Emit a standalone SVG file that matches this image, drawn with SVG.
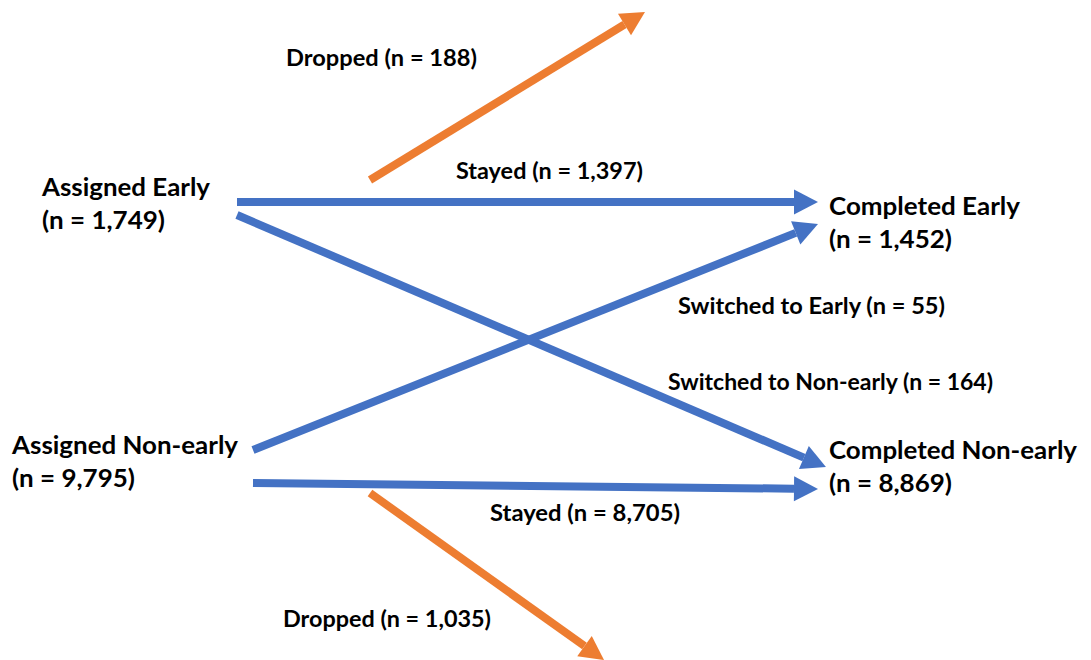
<svg xmlns="http://www.w3.org/2000/svg" width="1091" height="660" viewBox="0 0 1091 660">
<style>
text{font-family:Lato,"Liberation Sans",sans-serif;font-weight:bold;fill:#000}
.n{font-size:25.5px}
.l{font-size:22px}
.b{stroke:#4472C4;stroke-width:8;fill:none}
.o{stroke:#ED7D31;stroke-width:8;fill:none}
</style>
<defs>
<marker id="hb" markerUnits="userSpaceOnUse" markerWidth="26" markerHeight="26" refX="0" refY="12.5" orient="auto" overflow="visible"><path d="M0,0 L24,12.5 L0,25 Z" fill="#4472C4"/></marker>
<marker id="ho" markerUnits="userSpaceOnUse" markerWidth="26" markerHeight="26" refX="0" refY="12.5" orient="auto" overflow="visible"><path d="M0,0 L24,12.5 L0,25 Z" fill="#ED7D31"/></marker>
</defs>
<rect width="1091" height="660" fill="#fff"/>
<g id="connectors">
<line class="o" x1="370" y1="180" x2="624.5" y2="24.5" marker-end="url(#ho)"/>
<line class="b" x1="237" y1="202" x2="794" y2="202" marker-end="url(#hb)"/>
<line class="b" x1="237" y1="215" x2="803.9" y2="457.6" marker-end="url(#hb)"/>
<line class="b" x1="253" y1="450" x2="795.7" y2="232.9" marker-end="url(#hb)"/>
<line class="b" x1="253" y1="483" x2="794" y2="488.7" marker-end="url(#hb)"/>
<line class="o" x1="370" y1="493" x2="584.5" y2="646.1" marker-end="url(#ho)"/>
<text class="l" x="286" y="66" textLength="191" lengthAdjust="spacingAndGlyphs">Dropped (n = 188)</text>
<text class="l" x="456" y="179" textLength="187" lengthAdjust="spacingAndGlyphs">Stayed (n = 1,397)</text>
<text class="l" x="678" y="314" textLength="267" lengthAdjust="spacingAndGlyphs">Switched to Early (n = 55)</text>
<text class="l" x="668" y="390" textLength="325" lengthAdjust="spacingAndGlyphs">Switched to Non-early (n = 164)</text>
<text class="l" x="490" y="521" textLength="190" lengthAdjust="spacingAndGlyphs">Stayed (n = 8,705)</text>
<text class="l" x="283" y="627" textLength="208" lengthAdjust="spacingAndGlyphs">Dropped (n = 1,035)</text>
</g>
<g id="assigned-early"><text class="n" x="42" y="196" textLength="168" lengthAdjust="spacingAndGlyphs">Assigned Early</text><text class="n" x="42" y="229" textLength="123" lengthAdjust="spacingAndGlyphs">(n = 1,749)</text></g>
<g id="completed-early"><text class="n" x="829" y="215" textLength="191" lengthAdjust="spacingAndGlyphs">Completed Early</text><text class="n" x="829" y="248" textLength="123" lengthAdjust="spacingAndGlyphs">(n = 1,452)</text></g>
<g id="assigned-nonearly"><text class="n" x="12" y="454" textLength="226" lengthAdjust="spacingAndGlyphs">Assigned Non-early</text><text class="n" x="12" y="487" textLength="123" lengthAdjust="spacingAndGlyphs">(n = 9,795)</text></g>
<g id="completed-nonearly"><text class="n" x="829" y="459" textLength="248" lengthAdjust="spacingAndGlyphs">Completed Non-early</text><text class="n" x="829" y="492" textLength="123" lengthAdjust="spacingAndGlyphs">(n = 8,869)</text></g>
</svg>
